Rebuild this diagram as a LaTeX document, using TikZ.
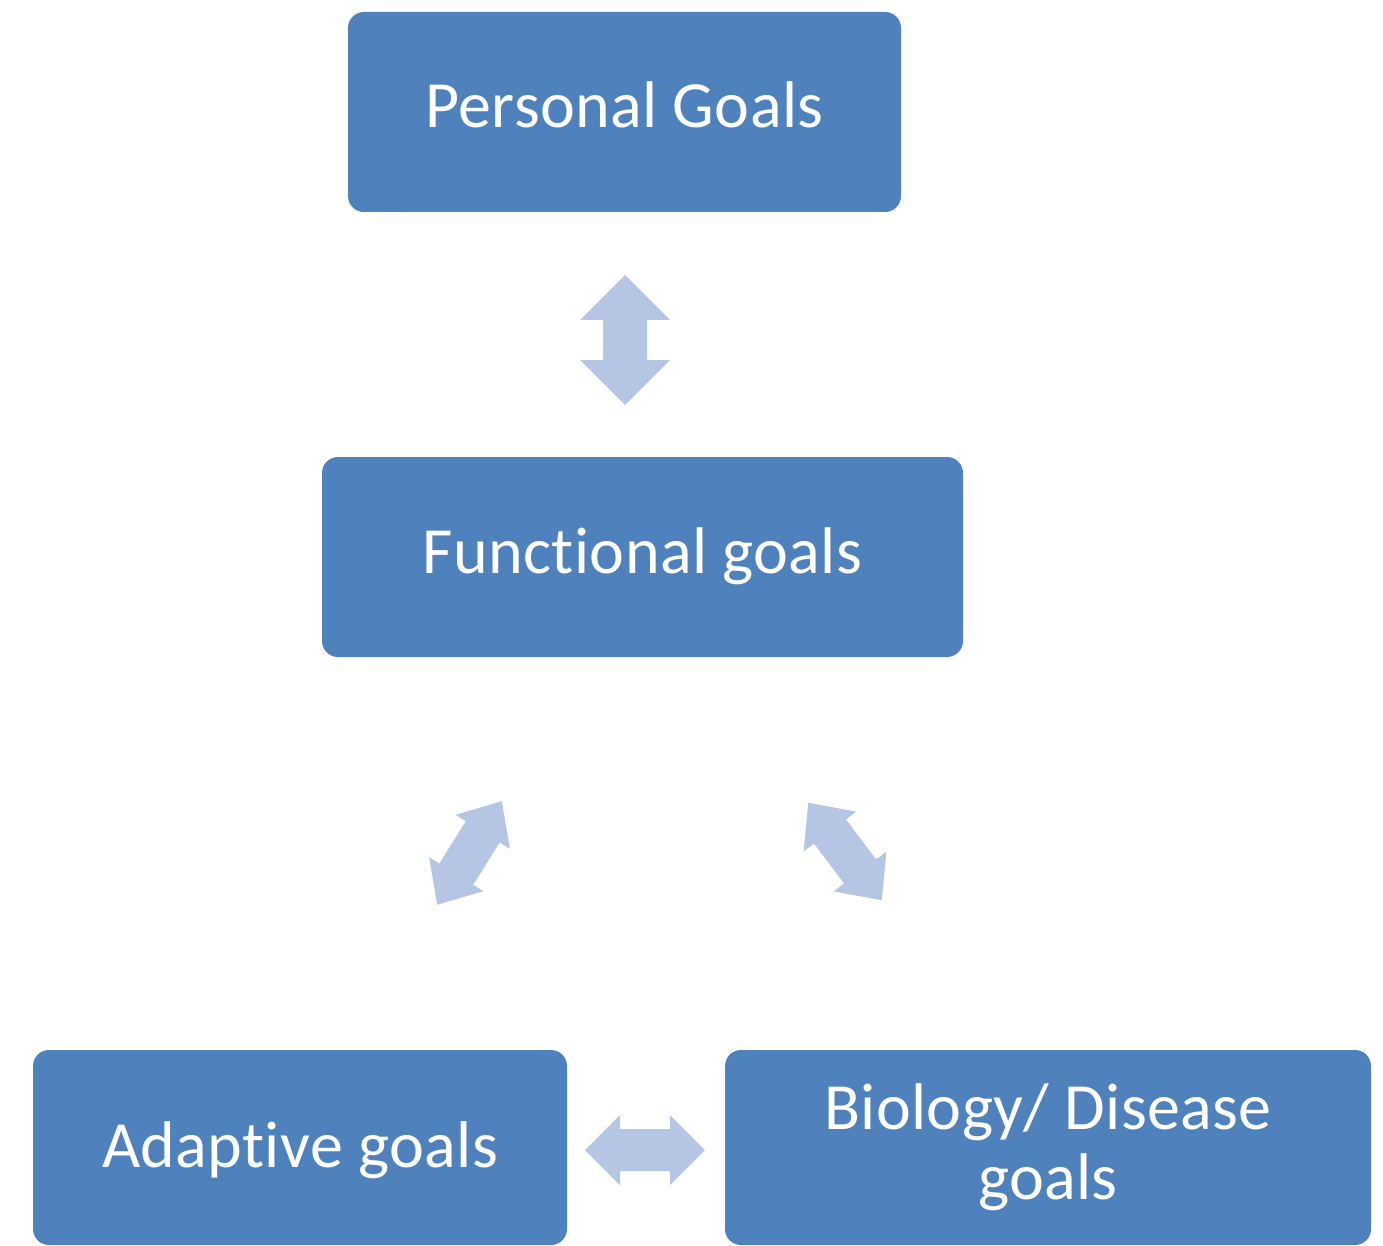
\documentclass[tikz,border=0pt]{standalone}
\usepackage{fontspec}
\setmainfont{Carlito}[Ligatures=NoCommon, LetterSpace=0.6]
\definecolor{boxblue}{RGB}{79,129,189}
\definecolor{arrowblue}{RGB}{180,198,228}
% block double arrow: x, y, angle, length, head length, head half-width, shaft half-width
\newcommand{\blockdblarrow}[7]{%
  \fill[blockarrow, shift={(#1,#2)}, rotate=#3]
    (-#4/2,0) -- (-#4/2+#5,#6) -- (-#4/2+#5,#7) -- (#4/2-#5,#7) -- (#4/2-#5,#6)
    -- (#4/2,0) -- (#4/2-#5,-#6) -- (#4/2-#5,-#7) -- (-#4/2+#5,-#7) -- (-#4/2+#5,-#6) -- cycle;}
\begin{document}
\begin{tikzpicture}[x=1pt,y=-1pt,
  goal/.style={fill=boxblue, rounded corners=16pt, text=white,
    font=\fontsize{66}{70}\selectfont, align=center, inner sep=0pt},
  oneline/.style={text height=46pt, text depth=14pt},
  blockarrow/.style={fill=arrowblue}]
\fill[white] (0,0) rectangle (1383,1246);
\useasboundingbox (0,0) rectangle (1383,1246);

\node[goal, oneline, minimum width=553pt, minimum height=200pt] (personal) at (624.5,112) {Personal Goals};
\node[goal, oneline, minimum width=641pt, minimum height=200pt] (functional) at (642.5,557) {Functional goals};
\node[goal, oneline, text depth=6pt, minimum width=534pt, minimum height=195pt] (adaptive) at (300,1147.5) {Adaptive goals};
\node[goal, minimum width=646pt, minimum height=195pt] (biology) at (1048,1147.5) {Biology/ Disease\\goals};

\blockdblarrow{625}{340}{90}{130}{45}{45}{22}
\blockdblarrow{469.5}{853}{58}{122}{36}{32}{20}
\blockdblarrow{845}{851.5}{-53}{122}{36}{33}{20}
\blockdblarrow{645}{1150}{0}{120}{35}{35}{21}
\end{tikzpicture}
\end{document}
